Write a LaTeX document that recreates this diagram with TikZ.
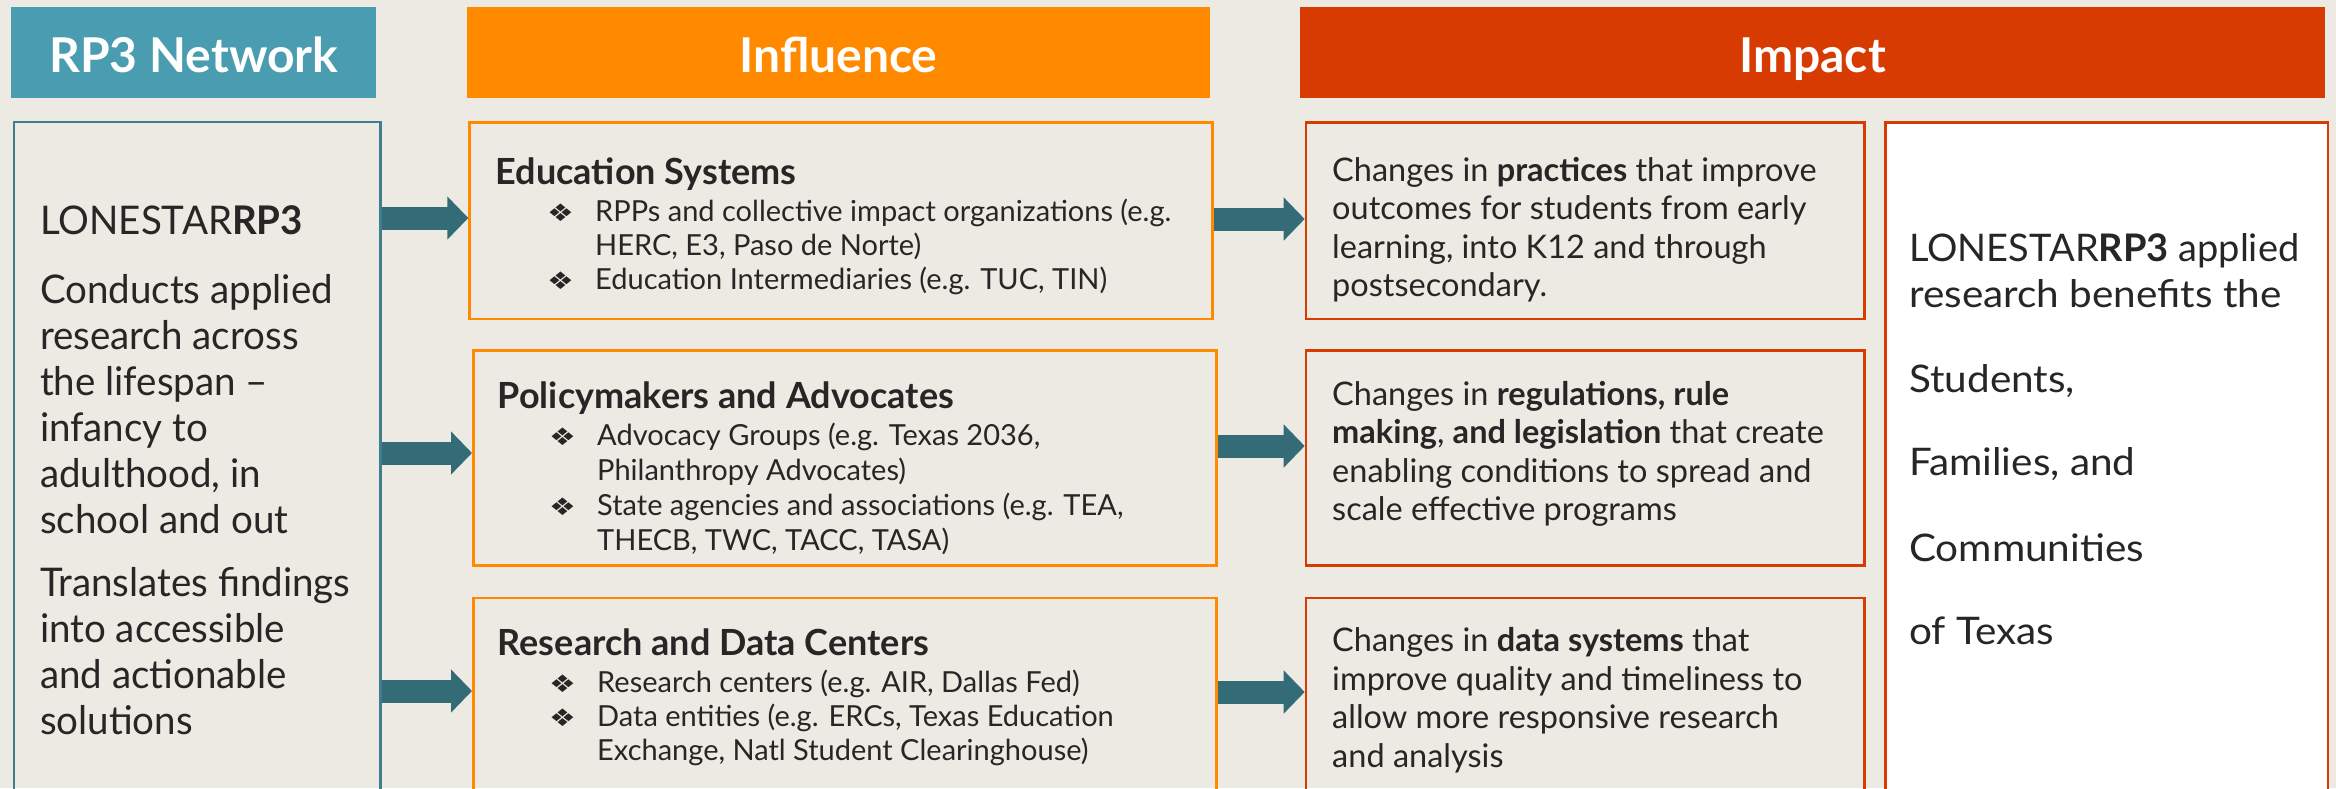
\documentclass[tikz,border=0pt]{standalone}
\usepackage{graphicx}
\usepackage{fontspec}
\setmainfont{Lato}
\newfontfamily\symfont{DejaVu Sans}
\newfontfamily\leftfont[FakeStretch=0.975]{Lato}
\newfontfamily\benfont[FakeStretch=1.065]{Lato}
\usetikzlibrary{arrows.meta}
\definecolor{bg}{HTML}{EDEAE3}
\definecolor{tealhdr}{HTML}{4A9DB0}
\definecolor{orng}{HTML}{FF8A00}
\definecolor{redor}{HTML}{D83B01}
\definecolor{arrowc}{HTML}{336B77}
\definecolor{boxteal}{HTML}{3F7E8C}
\definecolor{txt}{HTML}{262626}
\newcommand\fs[2]{\fontsize{#1}{#2}\selectfont}
\newcommand\bul{\makebox[45pt][l]{\hspace*{-3pt}\raisebox{0pt}{\scalebox{1.3}[1.05]{\symfont\fontsize{23}{23}\selectfont ❖}}}}
\tikzset{
  hdr/.style={minimum height=91pt, inner sep=0pt, text=white, font=\fs{48}{58}\bfseries, text height=40pt, text depth=0pt},
  boxn/.style={anchor=north west, inner sep=0pt, line width=2.5pt},
  lbl/.style={anchor=base west, align=left, inner sep=0pt, text=txt},
  barrow/.style={draw=arrowc, line width=23pt, -{Triangle[length=21pt, width=42pt]}},
}
\begin{document}
\begin{tikzpicture}[x=1pt,y=-1pt]
\useasboundingbox (0,0) rectangle (2336,788);
\clip (0,0) rectangle (2336,788);
\fill[bg] (0,0) rectangle (2336,788);
% headers
\node[hdr, fill=tealhdr, minimum width=365] (hnet) at (193.8,52.5) {RP3 Network};
\node[hdr, fill=orng, minimum width=743] (hinf) at (838.5,52.5) {Influence};
\node[hdr, fill=redor, minimum width=1025] (himp) at (1812.5,52.5) {Impact};
% boxes
\node[boxn, draw=boxteal, minimum width=366.2, minimum height=720] (lone) at (12.8,120.7) {};
\node[boxn, draw=orng, minimum width=742.7, minimum height=196.7] (edu) at (468.3,121) {};
\node[boxn, draw=orng, minimum width=743, minimum height=215] (pol) at (472,349) {};
\node[boxn, draw=orng, minimum width=743, minimum height=260] (res) at (472,596.7) {};
\node[boxn, draw=redor, minimum width=558.5, minimum height=196.7] (imp1) at (1304.7,121) {};
\node[boxn, draw=redor, minimum width=558.5, minimum height=214.7] (imp2) at (1304.7,349.3) {};
\node[boxn, draw=redor, minimum width=558.5, minimum height=260] (imp3) at (1304.7,596.7) {};
\node[boxn, draw=redor, fill=white, minimum width=442.4, minimum height=720] (ben) at (1884.4,121) {};
% arrow levels
\coordinate (a1) at (0,218);
\coordinate (a2) at (0,453);
\coordinate (a3) at (0,691);
\coordinate (b1) at (0,219);
\coordinate (b2) at (0,446);
\coordinate (b3) at (0,692);
\draw[barrow] (lone.east |- a1) -- (edu.west |- a1);
\draw[barrow] (lone.east |- a2) -- (pol.west |- a2);
\draw[barrow] (lone.east |- a3) -- (res.west |- a3);
\draw[barrow] (edu.east |- b1) -- (imp1.west |- b1);
\draw[barrow] (pol.east |- b2) -- (imp2.west |- b2);
\draw[barrow] (res.east |- b3) -- (imp3.west |- b3);
% left text (anchored at last baseline)
\node[lbl, font=\leftfont\fs{39.5}{46}] (lonetxt) at (39.8,734.7) {LONESTAR\textbf{RP3}\\[23pt]
Conducts applied\\ research across\\ the lifespan –\\ infancy to\\ adulthood, in\\ school and out\\[17.7pt]
Translates findings\\ into accessible\\ and actionable\\ solutions};
% influence texts
\node[lbl, font=\fs{36}{40}\bfseries] (eduh) at (495.5,184.3) {Education Systems};
\node[lbl, font=\fs{29}{34}] (edub) at (550,289.7) {\bul RPPs and collective impact organizations (e.g.\\
\hspace*{45pt}HERC, E3, Paso de Norte)\\ \bul Education Intermediaries (e.g. TUC, TIN)};
\node[lbl, font=\fs{36}{40}\bfseries] (polh) at (497.6,408) {Policymakers and Advocates};
\node[lbl, font=\fs{29}{35}] (polb) at (552,550) {\bul Advocacy Groups (e.g. Texas 2036,\\
\hspace*{45pt}Philanthropy Advocates)\\ \bul State agencies and associations (e.g. TEA,\\
\hspace*{45pt}THECB, TWC, TACC, TASA)};
\node[lbl, font=\fs{36}{40}\bfseries] (resh) at (497.6,655) {Research and Data Centers};
\node[lbl, font=\fs{29}{34}] (resb) at (552,760.7) {\bul Research centers (e.g. AIR, Dallas Fed)\\
\bul Data entities (e.g. ERCs, Texas Education\\
\hspace*{45pt}Exchange, Natl Student Clearinghouse)};
% impact texts
\node[lbl, font=\fs{32.5}{38.5}] (imp1t) at (1332,296.5) {Changes in \textbf{practices} that improve\\
outcomes for students from early\\ learning, into K12 and through\\ postsecondary.};
\node[lbl, font=\fs{32.5}{38.5}] (imp2t) at (1332,520.5) {Changes in \textbf{regulations, rule}\\
\textbf{making}, \textbf{and legislation} that create\\ enabling conditions to spread and\\ scale effective programs};
\node[lbl, font=\fs{32.5}{38.5}] (imp3t) at (1332,767.2) {Changes in \textbf{data systems} that\\
improve quality and timeliness to\\ allow more responsive research\\ and analysis};
% benefits text
\node[lbl, font=\benfont\fs{38}{46.2}] (bent) at (1909,644) {{\normalfont LONESTAR\textbf{RP3} applied}\\ research benefits the\\[38.3pt]
Students,\\[36.8pt] Families, and\\[39.8pt] Communities\\[36.8pt] of Texas};
\end{tikzpicture}
\end{document}
